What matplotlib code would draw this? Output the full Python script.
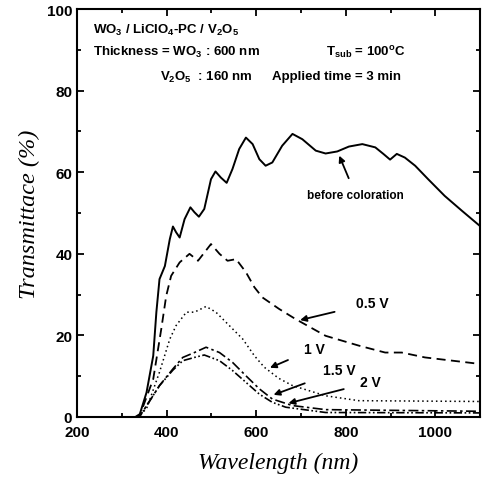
import numpy as np
import matplotlib.pyplot as plt

plt.rcParams['font.family'] = ['Liberation Sans', 'DejaVu Sans']
plt.rcParams['mathtext.default'] = 'regular'

# Пропускання до забарвлення
wl_before = [200, 330, 340, 355, 370, 377, 384, 396, 407, 414, 421, 429, 440, 453, 462,
             472, 484, 499, 509, 521, 534, 547, 562, 577, 592, 607, 621, 636, 658,
             681, 703, 733, 755, 781, 807, 837, 866, 884, 899, 914, 932, 955, 984,
             1021, 1059, 1100]
t_before = [0, 0, 0.7, 6, 15, 25.7, 33.8, 37, 43.6, 46.7, 45.3, 44, 48.5, 51.4, 50.2,
            49.1, 51, 58.3, 60.2, 58.7, 57.4, 60.8, 65.7, 68.5, 66.9, 63.2, 61.6, 62.4, 66.5,
            69.4, 68.1, 65.3, 64.6, 65.1, 66.3, 66.9, 66.1, 64.5, 63.1, 64.5, 63.6, 61.6, 58.3,
            54.2, 50.6, 46.8]

# 0.5 V
wl_05 = [200, 333, 340, 370, 388, 399, 410, 429, 451, 470, 499, 518, 536, 555, 577,
         596, 614, 651, 688, 755, 829, 888, 925, 977, 1100]
t_05 = [0, 0, 0.4, 9.3, 21.6, 29.7, 34.6, 37.9, 40, 38.3, 42.4, 40, 38.3, 38.7, 35.5,
        31.8, 29.3, 26.5, 24, 19.9, 17.5, 15.8, 15.8, 14.6, 13]

# 1 V
wl_1 = [200, 335, 355, 384, 407, 421, 444, 462, 488, 510, 540, 570, 596, 618, 650,
        681, 755, 829, 1100]
t_1 = [0, 0, 2, 11, 19.1, 22.4, 25.7, 25.7, 27.1, 25.7, 22.4, 19.1, 15, 12.2, 9.5,
       7.7, 5.2, 4, 3.8]

# 1.5 V
wl_15 = [200, 335, 342, 384, 414, 436, 462, 488, 518, 547, 577, 607, 636, 681, 755, 1100]
t_15 = [0, 0, 0.5, 7.7, 11.8, 14.6, 15.8, 17.1, 15.8, 13.4, 10.1, 6.9, 4.4, 2.8, 1.8, 1.4]

# 2 V
wl_2 = [200, 335, 342, 384, 414, 436, 462, 484, 518, 547, 577, 607, 636, 666, 755, 1100]
t_2 = [0, 0, 0.5, 7.7, 11.5, 13.8, 14.6, 15.2, 13.8, 11.4, 8.5, 5.6, 3.6, 2.4, 1.1, 1.0]

fig = plt.figure(figsize=(4.82, 4.81), dpi=100)
ax = fig.add_axes([0.160, 0.131, 0.836, 0.848])

ax.plot(wl_before, t_before, color='black', lw=1.4, ls='-')
ax.plot(wl_05, t_05, color='black', lw=1.3, ls=(0, (5, 3)))
ax.plot(wl_1, t_1, color='black', lw=1.1, ls=(0, (1, 2)))
ax.plot(wl_15, t_15, color='black', lw=1.2, ls=(0, (6, 2, 1.5, 2)))
ax.plot(wl_2, t_2, color='black', lw=1.2, ls=(0, (5, 1.5, 1, 1.5, 1, 1.5)))

ax.set_xlim(200, 1100)
ax.set_ylim(0, 100)
ax.set_xticks([200, 400, 600, 800, 1000])
ax.set_xticks(np.arange(300, 1100, 200), minor=True)
ax.set_yticks([0, 20, 40, 60, 80, 100])
ax.set_yticks(np.arange(10, 100, 20), minor=True)
ax.tick_params(which='both', direction='in', top=True, right=True, width=1.3)
ax.tick_params(which='major', length=5, labelsize=11)
ax.tick_params(axis='x', which='major', pad=6)
ax.tick_params(which='minor', length=3)
for lab in ax.get_xticklabels() + ax.get_yticklabels():
    lab.set_fontweight('bold')
for sp in ax.spines.values():
    sp.set_linewidth(1.5)

ax.set_xlabel('Wavelength (nm)', family='Liberation Serif', style='italic', fontsize=17, labelpad=9)
ax.set_ylabel('Transmittace (%)', family='Liberation Serif', style='italic', fontsize=17.5, labelpad=5)

# Підписи
kw = dict(fontsize=9.5, fontweight='bold')
ax.text(235, 95, r'WO$_3$ / LiClO$_4$-PC / V$_2$O$_5$', va='center', **kw)
ax.text(235, 89.5, r'Thickness = WO$_3$ : 600 nm', va='center', **kw)
ax.text(755, 89.5, r'T$_{sub}$ = 100$^o$C', va='center', **kw)
ax.text(384, 83.5, r'V$_2$O$_5$  : 160 nm', va='center', **kw)
ax.text(635, 83.5, r'Applied time = 3 min', va='center', **kw)

arr = dict(arrowstyle='-|>', color='black', lw=1.3, mutation_scale=9)
ax.annotate('before coloration', xy=(783, 64.7), xytext=(822, 54.5), ha='center', va='center',
            arrowprops=dict(arr, shrinkA=6), fontsize=8.5, fontweight='bold')
ax.annotate('0.5 V', xy=(692, 23.6), xytext=(860, 28), ha='center', va='center',
            arrowprops=dict(arr, shrinkA=14), fontsize=10, fontweight='bold')
ax.annotate('1 V', xy=(625, 11.8), xytext=(729, 16.7), ha='center', va='center',
            arrowprops=dict(arr, shrinkA=10), fontsize=10, fontweight='bold')
ax.annotate('1.5 V', xy=(633, 5.2), xytext=(786, 11.4), ha='center', va='center',
            arrowprops=dict(arr, shrinkA=12), fontsize=10, fontweight='bold')
ax.annotate('2 V', xy=(666, 3.2), xytext=(855, 8.5), ha='center', va='center',
            arrowprops=dict(arr, shrinkA=10), fontsize=10, fontweight='bold')

fig.savefig('out.png', dpi=100)
